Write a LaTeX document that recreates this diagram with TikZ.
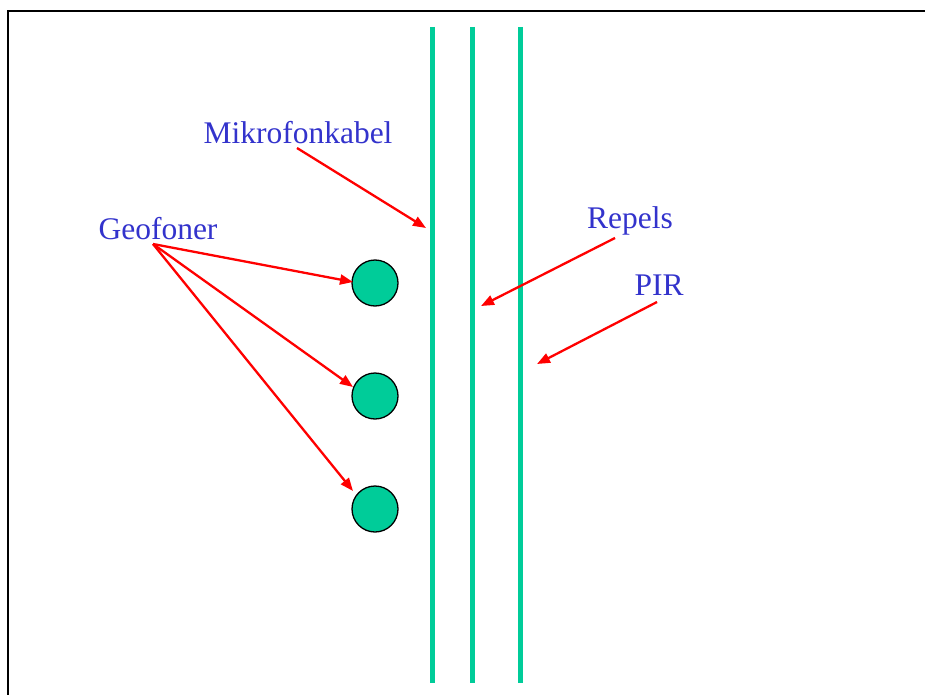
\documentclass[tikz,border=0pt]{standalone}
\usepackage{fontspec}
\setmainfont{Liberation Serif}
\usetikzlibrary{arrows.meta}
\definecolor{cablegreen}{HTML}{00CC99}
\definecolor{labelblue}{HTML}{3333CC}
\begin{document}
\begin{tikzpicture}[x=1pt,y=-1pt,
  cable/.style={draw=cablegreen,line width=5pt},
  geo/.style={circle,draw=black,line width=1.3pt,fill=cablegreen,minimum size=46pt,inner sep=0pt},
  lbl/.style={text=labelblue,font=\fontsize{31.5}{36}\selectfont,inner sep=0pt,anchor=center},
  ptr/.style={draw=red,line width=2.3pt,-{Triangle[length=13pt,width=10pt]}}]
\useasboundingbox (0,0) rectangle (925,695);
% frame
\draw[line width=1.5pt] (8,700) -- (8,11) -- (930,11);
% cables
\coordinate (k1t) at (432,27); \coordinate (k1b) at (432,683);
\coordinate (k2t) at (472,27); \coordinate (k2b) at (472,683);
\coordinate (k3t) at (520.5,27); \coordinate (k3b) at (520.5,683);
\draw[cable] (k1t) -- (k1b);
\draw[cable] (k2t) -- (k2b);
\draw[cable] (k3t) -- (k3b);
% geophones
\node[geo] (c1) at (375,283) {};
\node[geo] (c2) at (375,396) {};
\node[geo] (c3) at (375,509) {};
% labels
\node[lbl] (mik) at (298,133) {Mikrofonkabel};
\node[lbl] (geof) at (158,229) {Geofoner};
\node[lbl] (rep) at (630,221) {Repels};
\node[lbl] (pir) at (659,285) {PIR};
% pointer coordinates
\coordinate (mikS) at (297,148);
\coordinate (mikE) at (426,228);
\coordinate (geoS) at (153,244);
\coordinate (g1E) at (353,282);
\coordinate (g2E) at (353,387);
\coordinate (g3E) at (353,491);
\coordinate (repS) at (615,238);
\coordinate (repE) at (481,306);
\coordinate (pirS) at (657,302);
\coordinate (pirE) at (537,364);
% pointers
\draw[ptr] (mikS) -- (mikE);
\draw[ptr] (geoS) -- (g1E);
\draw[ptr] (geoS) -- (g2E);
\draw[ptr] (geoS) -- (g3E);
\draw[ptr] (repS) -- (repE);
\draw[ptr] (pirS) -- (pirE);
\end{tikzpicture}
\end{document}
